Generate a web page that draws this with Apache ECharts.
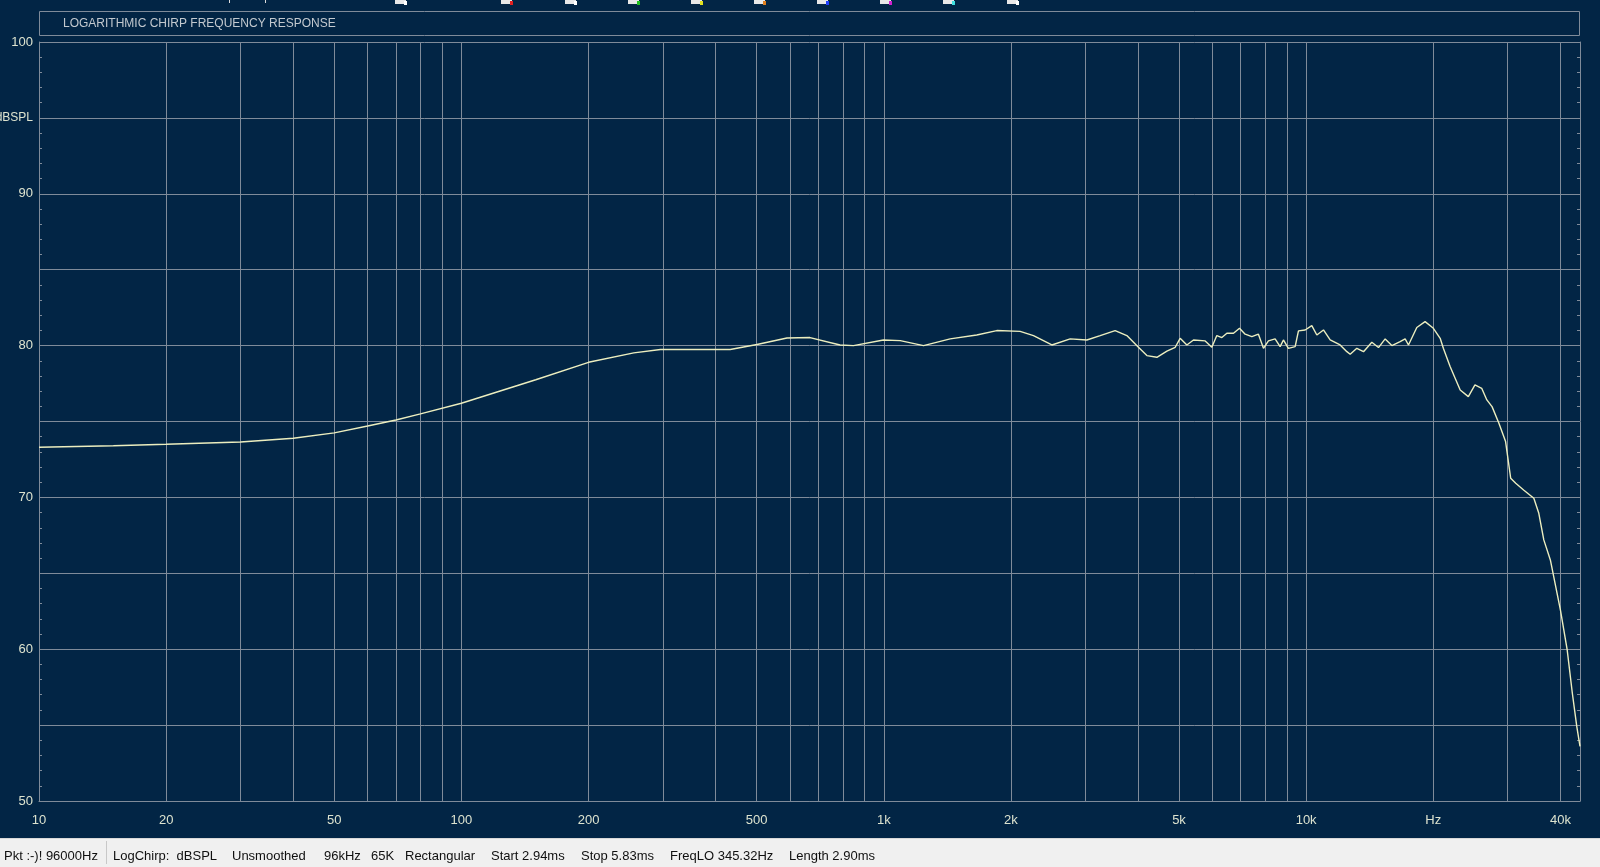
<!DOCTYPE html>
<html><head><meta charset="utf-8">
<script src="https://cdn.jsdelivr.net/npm/echarts@6/dist/echarts.min.js"></script>
<style>html,body{margin:0;padding:0;background:#022545;overflow:hidden}#c{width:1600px;height:867px}</style>
</head><body><div id="c"></div>
<script>
// ---- data ----
const freqHz = [10,15,20,30,40,50,60,70,80,100,150,200,256,296,433,501,590,669,788,848,998,1094,1242,1436,1660,1852,2103,2262,2500,2763,3026,3254,3530,3763,4009,4197,4432,4681,4898,5031,5219,5411,5768,5980,6145,6316,6491,6730,6955,7172,7438,7709,7925,8141,8443,8678,8835,9078,9418,9590,9945,10313,10600,10990,11399,12036,12487,12713,13183,13672,14305,14834,15385,15955,16693,17155,17470,18280,19125,20010,20765,21127,21920,22530,23160,24210,25100,26040,26780,27550,28600,29660,30500,31350,32720,34600,35550,36530,37860,39990,41500,42680,43730,44500];
const splDb  = [73.3,73.4,73.5,73.65,73.9,74.25,74.7,75.1,75.5,76.2,77.75,78.9,79.52,79.74,79.74,80.07,80.5,80.53,80.04,80.0,80.37,80.33,80.0,80.44,80.7,80.99,80.94,80.66,80.04,80.44,80.37,80.66,80.99,80.66,79.89,79.34,79.23,79.63,79.89,80.48,80.04,80.37,80.31,79.89,80.66,80.53,80.81,80.81,81.14,80.75,80.59,80.75,79.82,80.31,80.44,79.93,80.37,79.82,79.93,80.97,81.03,81.32,80.7,81.03,80.37,80.04,79.6,79.43,79.82,79.6,80.22,79.87,80.44,80.0,80.26,80.44,80.04,81.19,81.58,81.14,80.48,79.82,78.62,77.85,77.08,76.64,77.41,77.19,76.42,75.98,74.88,73.68,71.26,70.93,70.49,69.94,68.95,67.2,65.88,62.59,59.95,57.1,54.9,53.6];
const gridFreqs = [10,20,30,40,50,60,70,80,90,100,200,300,400,500,600,700,800,900,1000,2000,3000,4000,5000,6000,7000,8000,9000,10000,20000,30000,40000];
const labelFreqs = [10,20,50,100,200,500,1000,2000,5000,10000,20000,40000];
const yMin = 50, yMax = 100, yStep = 5;
const yLabels = {100:'100',95:'{u|dBSPL}',90:'90',80:'80',70:'70',60:'60',50:'50'};
const titleText = 'LOGARITHMIC CHIRP FREQUENCY RESPONSE';
const statusLeft = 'Pkt :-)! 96000Hz';
const statusItems = ['LogChirp:  dBSPL','Unsmoothed','96kHz','65K','Rectangular','Start 2.94ms','Stop 5.83ms','FreqLO 345.32Hz','Length 2.90ms'];
const statusX = [113,232,324,371,405,491,581,670,789];
const iconX = [395,501,565,628,691,754,817,880,943,1007];
const iconColors = ['#ffffff','#e02020','#ffffff','#20c020','#e0e020','#e08020','#2040ff','#d020d0','#40e0e0','#ffffff'];

const BG = '#022545', GRID = '#7f8b9a', TXT = '#dde3cf';
const data = freqHz.map((f,i)=>[f, splDb[i]]);

const graphic = [
  {type:'rect', shape:{x:39.5,y:11.5,width:1540,height:24}, style:{fill:'none',stroke:GRID,lineWidth:1}},
  {type:'text', x:63, y:24, style:{text:titleText, fill:'#c3c9cf', font:'12px "Liberation Sans"', verticalAlign:'middle'}},
  {type:'rect', shape:{x:0,y:838,width:1600,height:29}, style:{fill:'#f0f0f0'}},
  {type:'line', shape:{x1:0,y1:838.5,x2:1600,y2:838.5}, style:{stroke:'#d8d8d8',lineWidth:1}},
  {type:'line', shape:{x1:106.5,y1:841,x2:106.5,y2:864}, style:{stroke:'#c8c8c8',lineWidth:1}},
  {type:'text', x:4, y:856, style:{text:statusLeft, fill:'#101010', font:'13px "Liberation Sans"', verticalAlign:'middle'}}
];
statusItems.forEach((t,i)=>graphic.push({type:'text', x:statusX[i], y:856, style:{text:t, fill:'#101010', font:'13px "Liberation Sans"', verticalAlign:'middle'}}));
iconX.forEach((x,i)=>{
  graphic.push({type:'rect', shape:{x:x,y:0,width:11,height:4}, style:{fill:'#e8e8e8'}});
  graphic.push({type:'rect', shape:{x:x+9,y:1,width:3,height:4}, style:{fill:iconColors[i]}});
});
graphic.push({type:'line', shape:{x1:229.5,y1:0,x2:229.5,y2:3}, style:{stroke:'#dddddd'}});
graphic.push({type:'line', shape:{x1:265.5,y1:0,x2:265.5,y2:3}, style:{stroke:'#dddddd'}});

const yAxisBase = {
  type:'value', min:yMin, max:yMax, interval:yStep,
  axisLine:{show:true, lineStyle:{color:GRID,width:1}},
  axisTick:{show:true, inside:true, length:3, lineStyle:{color:GRID}},
  minorTick:{show:true, splitNumber:5, length:3, lineStyle:{color:GRID}},
};

const chart = echarts.init(document.getElementById('c'), null, {renderer:'canvas'});
chart.setOption({
  backgroundColor: BG,
  animation:false,
  graphic: graphic,
  grid:{left:39, right:20, top:42, bottom:66, containLabel:false, outerBoundsMode:'none'},
  xAxis:{
    type:'log', logBase:10, min:10, max:44500,
    axisLine:{show:true, lineStyle:{color:GRID}},
    axisTick:{show:false, customValues:gridFreqs},
    axisLabel:{customValues:labelFreqs, color:TXT, fontSize:13, fontFamily:'Liberation Sans', margin:13,
      formatter:(v)=>{const r=Math.round(v); if(r===20000) return 'Hz'; return r>=1000 ? (r/1000)+'k' : String(r);}},
    splitLine:{show:true, lineStyle:{color:GRID,width:1}}
  },
  yAxis:[
    Object.assign({}, yAxisBase, {
      position:'left',
      axisLabel:{color:TXT, fontSize:13, fontFamily:'Liberation Sans', margin:6,
        rich:{u:{fontSize:12, fontFamily:'Liberation Sans', color:TXT}},
        formatter:(v)=> yLabels[Math.round(v)] !== undefined ? yLabels[Math.round(v)] : ''},
      splitLine:{show:true, lineStyle:{color:GRID,width:1}}
    }),
    Object.assign({}, yAxisBase, {
      position:'right', axisLabel:{show:false}, splitLine:{show:false}
    })
  ],
  series:[{
    type:'line', data:data, showSymbol:false, symbol:'none',
    lineStyle:{color:'#eceebf', width:1.4}, z:5
  }]
});
</script></body></html>
